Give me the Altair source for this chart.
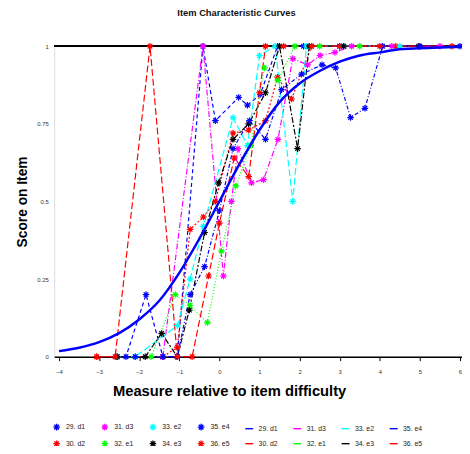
import altair as alt
import pandas as pd

items = ["29. d1", "30. d2", "31. d3", "32. e1", "33. e2", "34. e3", "35. e4", "36. e5"]
item_colors = ["#0000ff", "#ff0000", "#ff00ff", "#00ff00", "#00ffff", "#000000", "#0000ff", "#ff0000"]
item_dashes = [[4, 3], [2, 2], [6, 2, 1, 2], [1, 2], [7, 3], [2, 2, 6, 2], [4, 2, 1, 2], [7, 3]]

x29 = [-2.55, -2.33, -1.83, -1.41, -1.05, -0.41, -0.1, 0.48, 0.7, 1.02, 1.45, 2.1, 3.0]
y29 = [0, 0, 0.20, 0, 0, 1.0, 0.76, 0.835, 0.81, 0.845, 1.0, 1.0, 1.0]

x30 = [-3.06, -2.55, -1.41, -1.05, -0.73, -0.4, -0.1, 0.34, 0.73, 1.15, 1.45, 1.8, 2.3, 3.0, 4.4]
y30 = [0, 0, 0, 0.03, 0.41, 0.45, 0.50, 0.72, 0.73, 0.76, 0.90, 0.83, 1.0, 1.0, 1.0]

x31 = [-1.41, -0.41, 0.1, 0.3, 0.46, 0.8, 1.1, 1.46, 1.83, 2.2, 2.51, 2.88, 3.3, 4.3, 5.5]
y31 = [0, 1.0, 0.26, 0.5, 0.67, 0.56, 0.57, 0.70, 0.96, 0.94, 0.97, 0.98, 1.0, 1.0, 1.0]

x32 = [-1.7, -1.1, -0.73, -0.3, 0.05, 0.41, 0.78, 1.12, 1.46, 1.88, 2.5, 3.5]
y32 = [0, 0.20, 0.165, 0.11, 0.34, 0.55, 0.68, 0.93, 0.89, 1.0, 1.0, 1.0]

x33 = [-2.55, -2.1, -1.05, -0.73, -0.4, 0.34, 0.7, 1.0, 1.39, 1.83, 2.17, 3.1, 4.5]
y33 = [0, 0, 0.10, 0.25, 0.42, 0.77, 0.68, 0.97, 1.0, 0.50, 1.0, 1.0, 1.0]

x34 = [-2.55, -1.85, -1.44, -1.05, -0.75, -0.37, -0.02, 0.34, 0.73, 1.15, 1.5, 1.95, 2.24, 3.1, 4.97]
y34 = [0, 0, 0.075, 0, 0.15, 0.40, 0.56, 0.70, 0.75, 0.85, 1.0, 0.67, 1.0, 1.0, 1.0]

x35 = [-2.1, -1.41, -1.05, -0.73, -0.37, 0.0, 0.34, 0.75, 1.15, 1.55, 2.05, 2.56, 2.9, 3.27, 3.63, 4.07, 5.0, 6.0]
y35 = [0, 0, 0, 0.20, 0.29, 0.47, 0.67, 0.76, 0.70, 0.86, 0.91, 0.94, 0.93, 0.77, 0.80, 1.0, 1.0, 1.0]

x36 = [-3.06, -2.6, -1.73, -1.05, -0.68, -0.27, 0.0, 0.37, 0.73, 1.0, 1.15, 1.6, 2.3, 4.0, 5.8]
y36 = [0, 0, 1.0, 0, 0, 0.26, 0.43, 0.64, 0.58, 0.85, 1.0, 1.0, 1.0, 1.0, 1.0]

x_model = [-4, -3.5, -3, -2.5, -2, -1.5, -1, -0.5, 0, 0.5, 1, 1.5, 2, 2.5, 3, 3.5, 4, 4.5, 5, 5.5, 6]
y_model = [0.018, 0.029, 0.047, 0.076, 0.12, 0.18, 0.27, 0.38, 0.5, 0.62, 0.73, 0.82, 0.88, 0.92,
           0.95, 0.97, 0.98, 0.99, 0.993, 0.996, 0.998]

series_x = [x29, x30, x31, x32, x33, x34, x35, x36]
series_y = [y29, y30, y31, y32, y33, y34, y35, y36]

rows = []
for it, xs, ys in zip(items, series_x, series_y):
    for i, (xv, yv) in enumerate(zip(xs, ys)):
        rows.append({"item": it, "key": it + "|M", "x": xv, "y": yv, "ord": i})
emp = pd.DataFrame(rows)
model = pd.DataFrame({"x": x_model, "y": y_model})

STAR = "M-1,0L1,0M0,-1L0,1M-0.7,-0.7L0.7,0.7M-0.7,0.7L0.7,-0.7"
LINE = "M-1.2,0L1.2,0"

leg_keys, leg_colors, leg_shapes = [], [], []
for row in ([0, 2, 4, 6], [1, 3, 5, 7]):
    for i in row:
        leg_keys.append(items[i] + "|M"); leg_colors.append(item_colors[i]); leg_shapes.append(STAR)
    for i in row:
        leg_keys.append(items[i] + "|L"); leg_colors.append(item_colors[i]); leg_shapes.append(LINE)

xscale = alt.Scale(domain=[-4.12, 6.05], nice=False, zero=False)
yscale = alt.Scale(domain=[0, 1], nice=False, zero=False)
xaxis = alt.Axis(values=list(range(-4, 7)), title="Measure relative to item difficulty", grid=False,
                 domainColor="black", domainWidth=1.5, tickColor="black", tickSize=4, tickWidth=1,
                 labelFontSize=6, labelColor="#333333", labelPadding=8, labelFlush=False,
                 titleFontSize=15, titleFontWeight="bold", titleColor="black",
                 titleX=178, titleY=34, titleBaseline="middle", titleAlign="center")
yaxis = alt.Axis(values=[0, 0.25, 0.5, 0.75, 1], format=".2~f", domain=False, ticks=False, grid=False,
                 labelFontSize=6, labelColor="#333333", labelPadding=6,
                 title="Score on Item", titleFontSize=14, titleFontWeight="bold", titleColor="black",
                 titleX=-32, titleY=158, titleAngle=-90, titleBaseline="middle", titleAlign="center")

color_scale = alt.Scale(domain=leg_keys, range=leg_colors)
shape_scale = alt.Scale(domain=leg_keys, range=leg_shapes)

top_rule = alt.Chart(model).mark_rule(color="black", strokeWidth=1.5).encode(y=alt.datum(1, scale=yscale))

base_axes = alt.Chart(model).mark_line(opacity=0).encode(
    x=alt.X("x:Q", scale=xscale, axis=xaxis),
    y=alt.Y("y:Q", scale=yscale, axis=yaxis),
)

line_layers = []
for it, col, dash in zip(items, item_colors, item_dashes):
    line_layers.append(
        alt.Chart(emp).transform_filter(alt.datum.item == it)
        .mark_line(strokeWidth=1.2, color=col, strokeDash=dash)
        .encode(x=alt.X("x:Q", scale=xscale), y=alt.Y("y:Q", scale=yscale), order="ord:Q")
    )

leg = alt.Legend(
    title=None, orient="none", legendX=-2, legendY=383, columns=8, direction="horizontal",
    labelExpr="substring(datum.value, 0, 6)", labelFontSize=7, labelColor="#222222",
    symbolSize=45, symbolStrokeWidth=1.4, columnPadding=12, rowPadding=4, gridAlign="all",
    labelOffset=5)

points = alt.Chart(emp).mark_point(filled=False, size=44, strokeWidth=1.2, opacity=1).encode(
    x=alt.X("x:Q", scale=xscale),
    y=alt.Y("y:Q", scale=yscale),
    color=alt.Color("key:N", scale=color_scale, legend=leg),
    shape=alt.Shape("key:N", scale=shape_scale, legend=leg),
)

curve = alt.Chart(model).mark_line(color="#0000ff", strokeWidth=2.5, interpolate="monotone").encode(
    x=alt.X("x:Q", scale=xscale),
    y=alt.Y("y:Q", scale=yscale),
)

chart = alt.layer(base_axes, top_rule, *line_layers, points, curve).properties(
    width=415, height=316,
    title=alt.Title("Item Characteristic Curves", fontSize=9.5, fontWeight="bold", color="#111111",
                    anchor="middle", frame="group", dx=-22, offset=23),
    autosize=alt.AutoSizeParams(type="none"),
    padding={"left": 47, "top": 35, "right": 0, "bottom": 87},
    background="white",
).configure_view(stroke=None).configure(font="Liberation Sans")

chart.save("out.html", embed_options={"renderer": "svg", "actions": False})
